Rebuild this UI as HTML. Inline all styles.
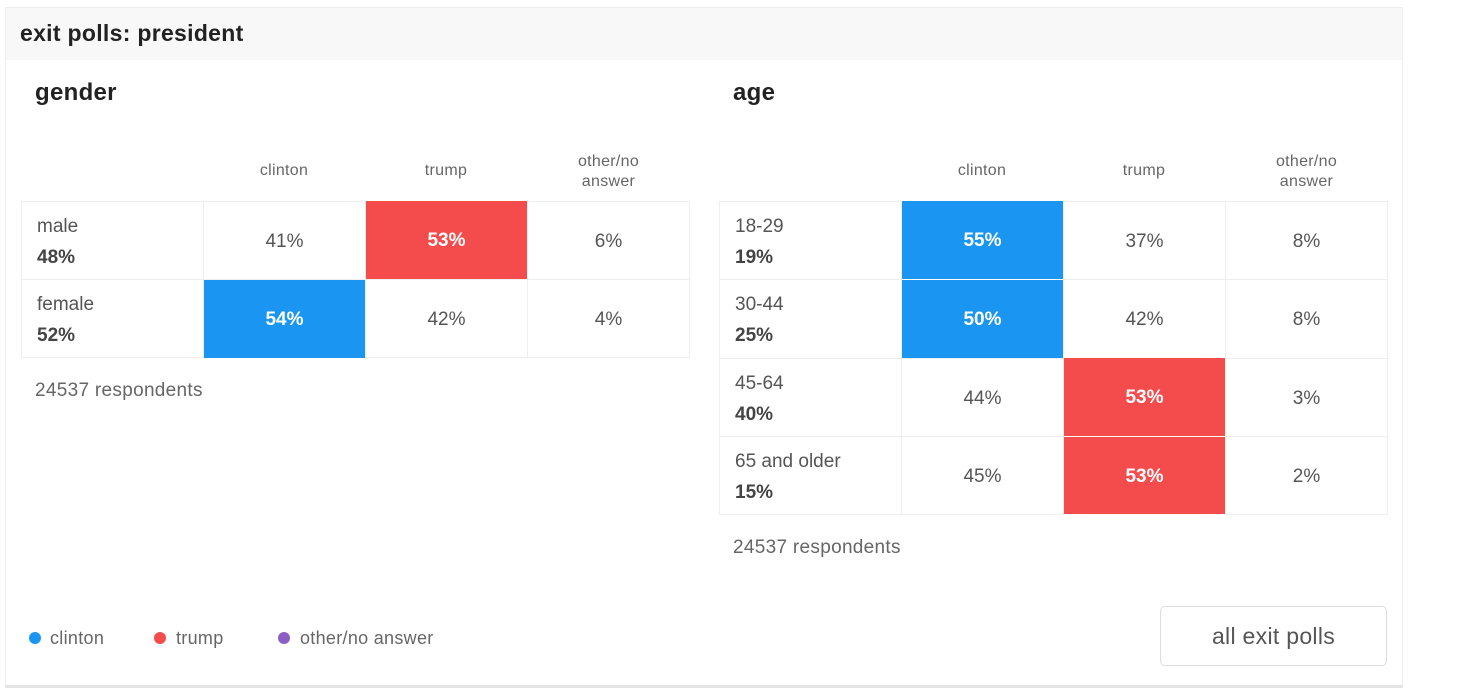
<!DOCTYPE html>
<html><head><style>
body{margin:0;width:1458px;height:700px;background:#fff;font-family:"Liberation Sans",sans-serif;position:relative;overflow:hidden}
.a{position:absolute}
.card{left:5px;top:7px;width:1396px;height:677px;border:1px solid #eee;border-bottom:3px solid #e4e4e4}
.hdr{left:6px;top:8px;width:1396px;height:52px;background:#f8f8f8}
.c{position:absolute;border:1px solid #eee;box-sizing:border-box;display:flex;align-items:center;justify-content:center;font-size:19px;color:#555;padding-top:2px}
.l{justify-content:flex-start;flex-direction:column;align-items:flex-start;padding-left:15px;justify-content:center;line-height:31px}
.l b{color:#444}
.r{background:#f44c4c;color:#fff;font-weight:bold;border:none}
.b{background:#1a96f2;color:#fff;font-weight:bold;border:none}
.h{position:absolute;font-size:16px;color:#666;text-align:center;line-height:20px;letter-spacing:0.3px}
.dot{position:absolute;width:12px;height:12px;border-radius:50%}
.lg{position:absolute;font-size:18px;color:#666;letter-spacing:0.3px}
</style></head><body>
<div class="a card"></div>
<div class="a hdr"></div>
<div class="a" style="left:20px;top:20px;font-size:23px;font-weight:bold;color:#222;letter-spacing:0.3px">exit polls: president</div>
<div class="a" style="left:35px;top:79px;font-size:24px;font-weight:bold;color:#222;letter-spacing:0.3px">gender</div>
<div class="a" style="left:733px;top:79px;font-size:24px;font-weight:bold;color:#222;letter-spacing:0.3px">age</div>

<div class="h" style="left:203px;width:162px;top:161px">clinton</div>
<div class="h" style="left:365px;width:162px;top:161px">trump</div>
<div class="h" style="left:527px;width:163px;top:152px">other/no<br>answer</div>
<div class="h" style="left:901px;width:162px;top:161px">clinton</div>
<div class="h" style="left:1063px;width:162px;top:161px">trump</div>
<div class="h" style="left:1225px;width:163px;top:152px">other/no<br>answer</div>

<div class="c l" style="left:21px;top:201px;width:183px;height:79px"><span>male</span><b>48%</b></div>
<div class="c" style="left:203px;top:201px;width:163px;height:79px">41%</div>
<div class="c r" style="left:366px;top:201px;width:161px;height:78px">53%</div>
<div class="c" style="left:527px;top:201px;width:163px;height:79px">6%</div>
<div class="c l" style="left:21px;top:279px;width:183px;height:79px"><span>female</span><b>52%</b></div>
<div class="c b" style="left:204px;top:280px;width:161px;height:78px">54%</div>
<div class="c" style="left:365px;top:279px;width:163px;height:79px">42%</div>
<div class="c" style="left:527px;top:279px;width:163px;height:79px">4%</div>
<div class="a" style="left:35px;top:380px;font-size:19px;color:#666;letter-spacing:0.3px">24537 respondents</div>

<div class="c l" style="left:719px;top:201px;width:183px;height:79px"><span>18-29</span><b>19%</b></div>
<div class="c b" style="left:902px;top:201px;width:161px;height:78px">55%</div>
<div class="c" style="left:1063px;top:201px;width:163px;height:79px">37%</div>
<div class="c" style="left:1225px;top:201px;width:163px;height:79px">8%</div>
<div class="c l" style="left:719px;top:279px;width:183px;height:80px"><span>30-44</span><b>25%</b></div>
<div class="c b" style="left:902px;top:280px;width:161px;height:78px">50%</div>
<div class="c" style="left:1063px;top:279px;width:163px;height:80px">42%</div>
<div class="c" style="left:1225px;top:279px;width:163px;height:80px">8%</div>
<div class="c l" style="left:719px;top:358px;width:183px;height:79px"><span>45-64</span><b>40%</b></div>
<div class="c" style="left:901px;top:358px;width:163px;height:79px">44%</div>
<div class="c r" style="left:1064px;top:358px;width:161px;height:78px">53%</div>
<div class="c" style="left:1225px;top:358px;width:163px;height:79px">3%</div>
<div class="c l" style="left:719px;top:436px;width:183px;height:79px"><span>65 and older</span><b>15%</b></div>
<div class="c" style="left:901px;top:436px;width:163px;height:79px">45%</div>
<div class="c r" style="left:1064px;top:437px;width:161px;height:77px">53%</div>
<div class="c" style="left:1225px;top:436px;width:163px;height:79px">2%</div>
<div class="a" style="left:733px;top:537px;font-size:19px;color:#666;letter-spacing:0.3px">24537 respondents</div>

<div class="dot" style="left:29px;top:632px;background:#1a96f2"></div><div class="lg" style="left:50px;top:628px">clinton</div>
<div class="dot" style="left:154px;top:632px;background:#f44c4c"></div><div class="lg" style="left:176px;top:628px">trump</div>
<div class="dot" style="left:278px;top:632px;background:#8c5fc4"></div><div class="lg" style="left:300px;top:628px">other/no answer</div>

<div class="a" style="left:1160px;top:606px;width:227px;height:60px;border:1px solid #ddd;border-radius:5px;box-sizing:border-box;display:flex;align-items:center;justify-content:center;font-size:23px;color:#555;letter-spacing:0.3px">all exit polls</div>
</body></html>
